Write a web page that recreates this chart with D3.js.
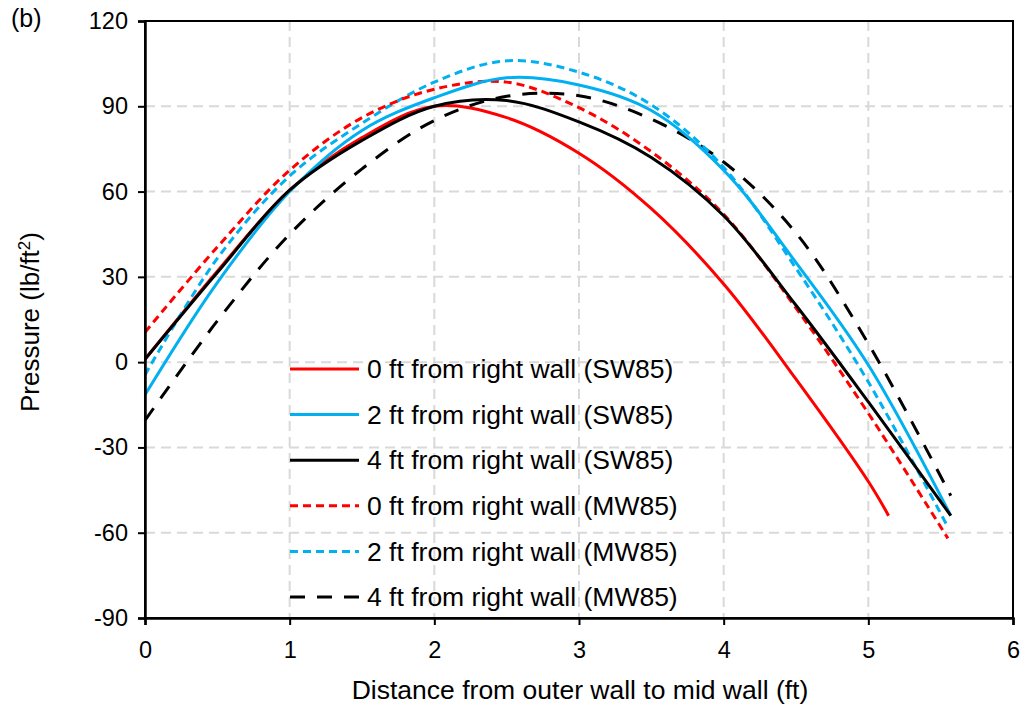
<!DOCTYPE html>
<html lang="en">
<head>
<meta charset="UTF-8">
<title>Pressure vs distance (b)</title>
<script src="https://d3js.org/d3.v7.min.js"></script>
<style>
  body { margin: 0; background: #fff; font-family: Arial, "Liberation Sans", sans-serif; }
</style>
</head>
<body>
<div id="chart"></div>
<script>
// data
const xGrid = [0, 0.5, 1, 1.5, 2, 2.5, 3, 3.5, 4, 4.5, 5];

const sw0 = [1, 32, 60.5, 79, 90, 86, 73.5, 54, 27.5, -6, -42];
const sw0End = [5.14, -54];
const sw2 = [-11.5, 28, 60, 81.5, 93, 100, 97.5, 88.5, 67.5, 35, -1];
const sw2End = [5.57, -54];
const sw4 = [1, 31.5, 60.5, 78, 90, 92, 84.5, 72, 51.5, 20, -14];
const sw4End = [5.57, -54];
const mw0 = [10.5, 40.5, 67.5, 86, 96, 98.5, 89.5, 74, 52, 19, -18];
const mw0End = [5.55, -62];
const mw2 = [-4.5, 36.5, 65.5, 84, 98.5, 106, 102, 90.5, 68.5, 33, -7];
const mw2End = [5.55, -58];
const mw4 = [-20.5, 14.5, 45, 68, 85, 93.5, 93.7, 85.5, 70.4, 45.4, 6.5];
const mw4End = [5.57, -47];

const seriesNames = [
  "0 ft from right wall (SW85)",
  "2 ft from right wall (SW85)",
  "4 ft from right wall (SW85)",
  "0 ft from right wall (MW85)",
  "2 ft from right wall (MW85)",
  "4 ft from right wall (MW85)"
];

const xTicks = [0, 1, 2, 3, 4, 5, 6];
const yTicks = [-90, -60, -30, 0, 30, 60, 90, 120];

const W = 1026, H = 705;
const mLeft = 145, mRight = 1013, mTop = 21, mBottom = 618;

const x = d3.scaleLinear().domain([0, 6]).range([mLeft, mRight]);
const y = d3.scaleLinear().domain([-90, 120]).range([mBottom, mTop]);

const svg = d3.select("#chart").append("svg")
  .attr("width", W).attr("height", H)
  .style("font-family", "Arial, 'Liberation Sans', sans-serif");

// gridlines
svg.append("g").selectAll("line")
  .data(yTicks.filter(d => d !== -90 && d !== 120))
  .join("line")
  .attr("x1", mLeft).attr("x2", mRight)
  .attr("y1", d => y(d)).attr("y2", d => y(d))
  .attr("stroke", "#d9d9d9").attr("stroke-width", 2)
  .attr("stroke-dasharray", "10,6");

svg.append("g").selectAll("line")
  .data(xTicks.filter(d => d !== 0 && d !== 6))
  .join("line")
  .attr("x1", d => x(d)).attr("x2", d => x(d))
  .attr("y1", mTop).attr("y2", mBottom)
  .attr("stroke", "#d9d9d9").attr("stroke-width", 2)
  .attr("stroke-dasharray", "10,6");

// series
const styles = [
  { color: "#ff0000", dash: null },
  { color: "#00b0f0", dash: null },
  { color: "#000000", dash: null },
  { color: "#ff0000", dash: "8,5" },
  { color: "#00b0f0", dash: "8,5" },
  { color: "#000000", dash: "15,12" }
];

function pts(vals, end) {
  const p = xGrid.map((xv, i) => [xv, vals[i]]);
  p.push(end);
  return p;
}

const series = [
  pts(sw0, sw0End), pts(sw2, sw2End), pts(sw4, sw4End),
  pts(mw0, mw0End), pts(mw2, mw2End), pts(mw4, mw4End)
];

const line = d3.line()
  .x(d => x(d[0]))
  .y(d => y(d[1]))
  .curve(d3.curveCatmullRom.alpha(0.5));

// draw in an order so the red solid sits under the black solid
const drawOrder = [0, 5, 4, 3, 1, 2];
drawOrder.forEach(i => {
  svg.append("path")
    .datum(series[i])
    .attr("d", line)
    .attr("fill", "none")
    .attr("stroke", styles[i].color)
    .attr("stroke-width", 3)
    .attr("stroke-dasharray", styles[i].dash);
});

// frame
svg.append("rect")
  .attr("x", mLeft).attr("y", mTop)
  .attr("width", mRight - mLeft).attr("height", mBottom - mTop)
  .attr("fill", "none").attr("stroke", "#000").attr("stroke-width", 2);

// axes
const fmt = d => String(d);
const yAxis = d3.axisLeft(y).tickValues(yTicks).tickFormat(fmt).tickSize(7).tickPadding(10);
const gy = svg.append("g").attr("transform", `translate(${mLeft},0)`).call(yAxis);
const xAxis = d3.axisBottom(x).tickValues(xTicks).tickFormat(fmt).tickSize(7).tickPadding(16);
const gx = svg.append("g").attr("transform", `translate(0,${mBottom})`).call(xAxis);
[gx, gy].forEach(g => {
  g.select(".domain").attr("stroke", "#000").attr("stroke-width", 2.5);
  g.selectAll(".tick line").attr("stroke", "#000").attr("stroke-width", 2);
  g.selectAll(".tick text")
    .attr("font-size", 23.5).attr("fill", "#000")
    .style("font-family", "Arial, 'Liberation Sans', sans-serif");
});

// titles
svg.append("text")
  .attr("x", 580).attr("y", 699)
  .attr("text-anchor", "middle").attr("font-size", 26.5)
  .text("Distance from outer wall to mid wall (ft)");

const yt = svg.append("text")
  .attr("transform", "translate(39,322) rotate(-90)")
  .attr("text-anchor", "middle").attr("font-size", 26);
yt.append("tspan").text("Pressure (lb/ft");
yt.append("tspan").attr("font-size", 17).attr("dy", -9).text("2");
yt.append("tspan").attr("dy", 9).text(")");

svg.append("text")
  .attr("x", 11).attr("y", 27)
  .attr("font-size", 25)
  .text("(b)");

// legend
const legY0 = 369, legStep = 45.6;
const leg = svg.append("g");
seriesNames.forEach((name, i) => {
  const ly = legY0 + i * legStep;
  leg.append("line")
    .attr("x1", 290).attr("x2", 359)
    .attr("y1", ly).attr("y2", ly)
    .attr("stroke", styles[i].color).attr("stroke-width", 3)
    .attr("stroke-dasharray", styles[i].dash);
  leg.append("text")
    .attr("x", 367).attr("y", ly).attr("dy", "0.35em")
    .attr("font-size", 26.5)
    .text(name);
});
</script>
</body>
</html>
